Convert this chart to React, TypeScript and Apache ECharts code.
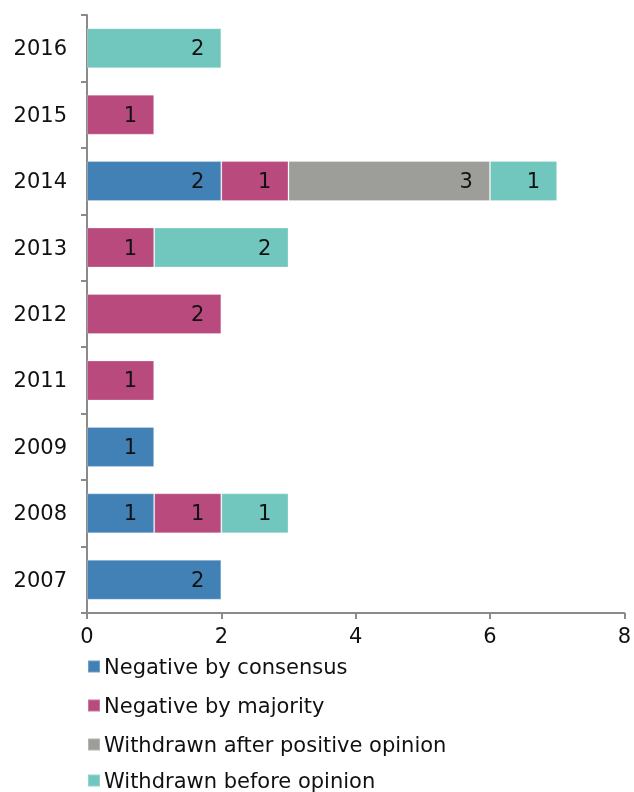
import React, { useEffect, useRef } from "react";
import * as echarts from "echarts";

const years = ["2007", "2008", "2009", "2011", "2012", "2013", "2014", "2015", "2016"];
const negConsensus = [2, 1, 1, null, null, null, 2, null, null];
const negMajority = [null, 1, null, 1, 2, 1, 1, 1, null];
const withdrawnAfter = [null, null, null, null, null, null, 3, null, null];
const withdrawnBefore = [null, 1, null, null, null, 2, 1, null, 2];
const xTicks = { min: 0, max: 8, interval: 2 };

const seriesDefs = [
  { name: "Negative by consensus", data: negConsensus, color: "#4181b5" },
  { name: "Negative by majority", data: negMajority, color: "#b94a7d" },
  { name: "Withdrawn after positive opinion", data: withdrawnAfter, color: "#9d9e99" },
  { name: "Withdrawn before opinion", data: withdrawnBefore, color: "#71c6bd" },
];
const legendTops = [656, 695, 734, 770];

const FONT = "DejaVu Sans, Verdana, sans-serif";

export default function App() {
  const ref = useRef<HTMLDivElement>(null);
  useEffect(() => {
    if (!ref.current) return;
    const chart = echarts.init(ref.current, null, { renderer: "svg" });
    chart.setOption({
      animation: false,
      textStyle: { fontFamily: FONT },
      grid: { left: 87, right: 8, top: 15, bottom: 179, containLabel: false },
      xAxis: {
        type: "value",
        min: xTicks.min,
        max: xTicks.max,
        interval: xTicks.interval,
        splitLine: { show: false },
        axisLine: { show: true, lineStyle: { color: "#8a8a8a", width: 2 } },
        axisTick: { show: true, length: 6, lineStyle: { color: "#8a8a8a", width: 2 } },
        axisLabel: { color: "#111", fontSize: 21, fontFamily: FONT, margin: 12 },
      },
      yAxis: {
        type: "category",
        data: years,
        axisLine: { show: true, lineStyle: { color: "#8a8a8a", width: 2 } },
        axisTick: { show: true, length: 6, lineStyle: { color: "#8a8a8a", width: 2 } },
        axisLabel: { color: "#111", fontSize: 21, fontFamily: FONT, margin: 20 },
      },
      legend: seriesDefs.map((s, i) => ({
        orient: "vertical",
        left: 87,
        top: legendTops[i],
        padding: 0,
        itemWidth: 12,
        itemHeight: 12,
        icon: "rect",
        textStyle: { color: "#111", fontSize: 21, fontFamily: FONT, padding: [0, 0, 0, -1] },
        data: [s.name],
      })),
      series: seriesDefs.map((s) => ({
        name: s.name,
        type: "bar",
        stack: "total",
        barWidth: 40,
        data: s.data,
        itemStyle: { color: s.color, borderColor: "rgba(255,255,255,0.25)", borderWidth: 1 },
        label: {
          show: true,
          position: "insideRight",
          distance: 17,
          color: "#111",
          fontSize: 21,
          fontFamily: FONT,
        },
      })),
    });
    return () => chart.dispose();
  }, []);
  return <div ref={ref} style={{ position: "fixed", left: 0, top: 0, width: 634, height: 792 }} />;
}
